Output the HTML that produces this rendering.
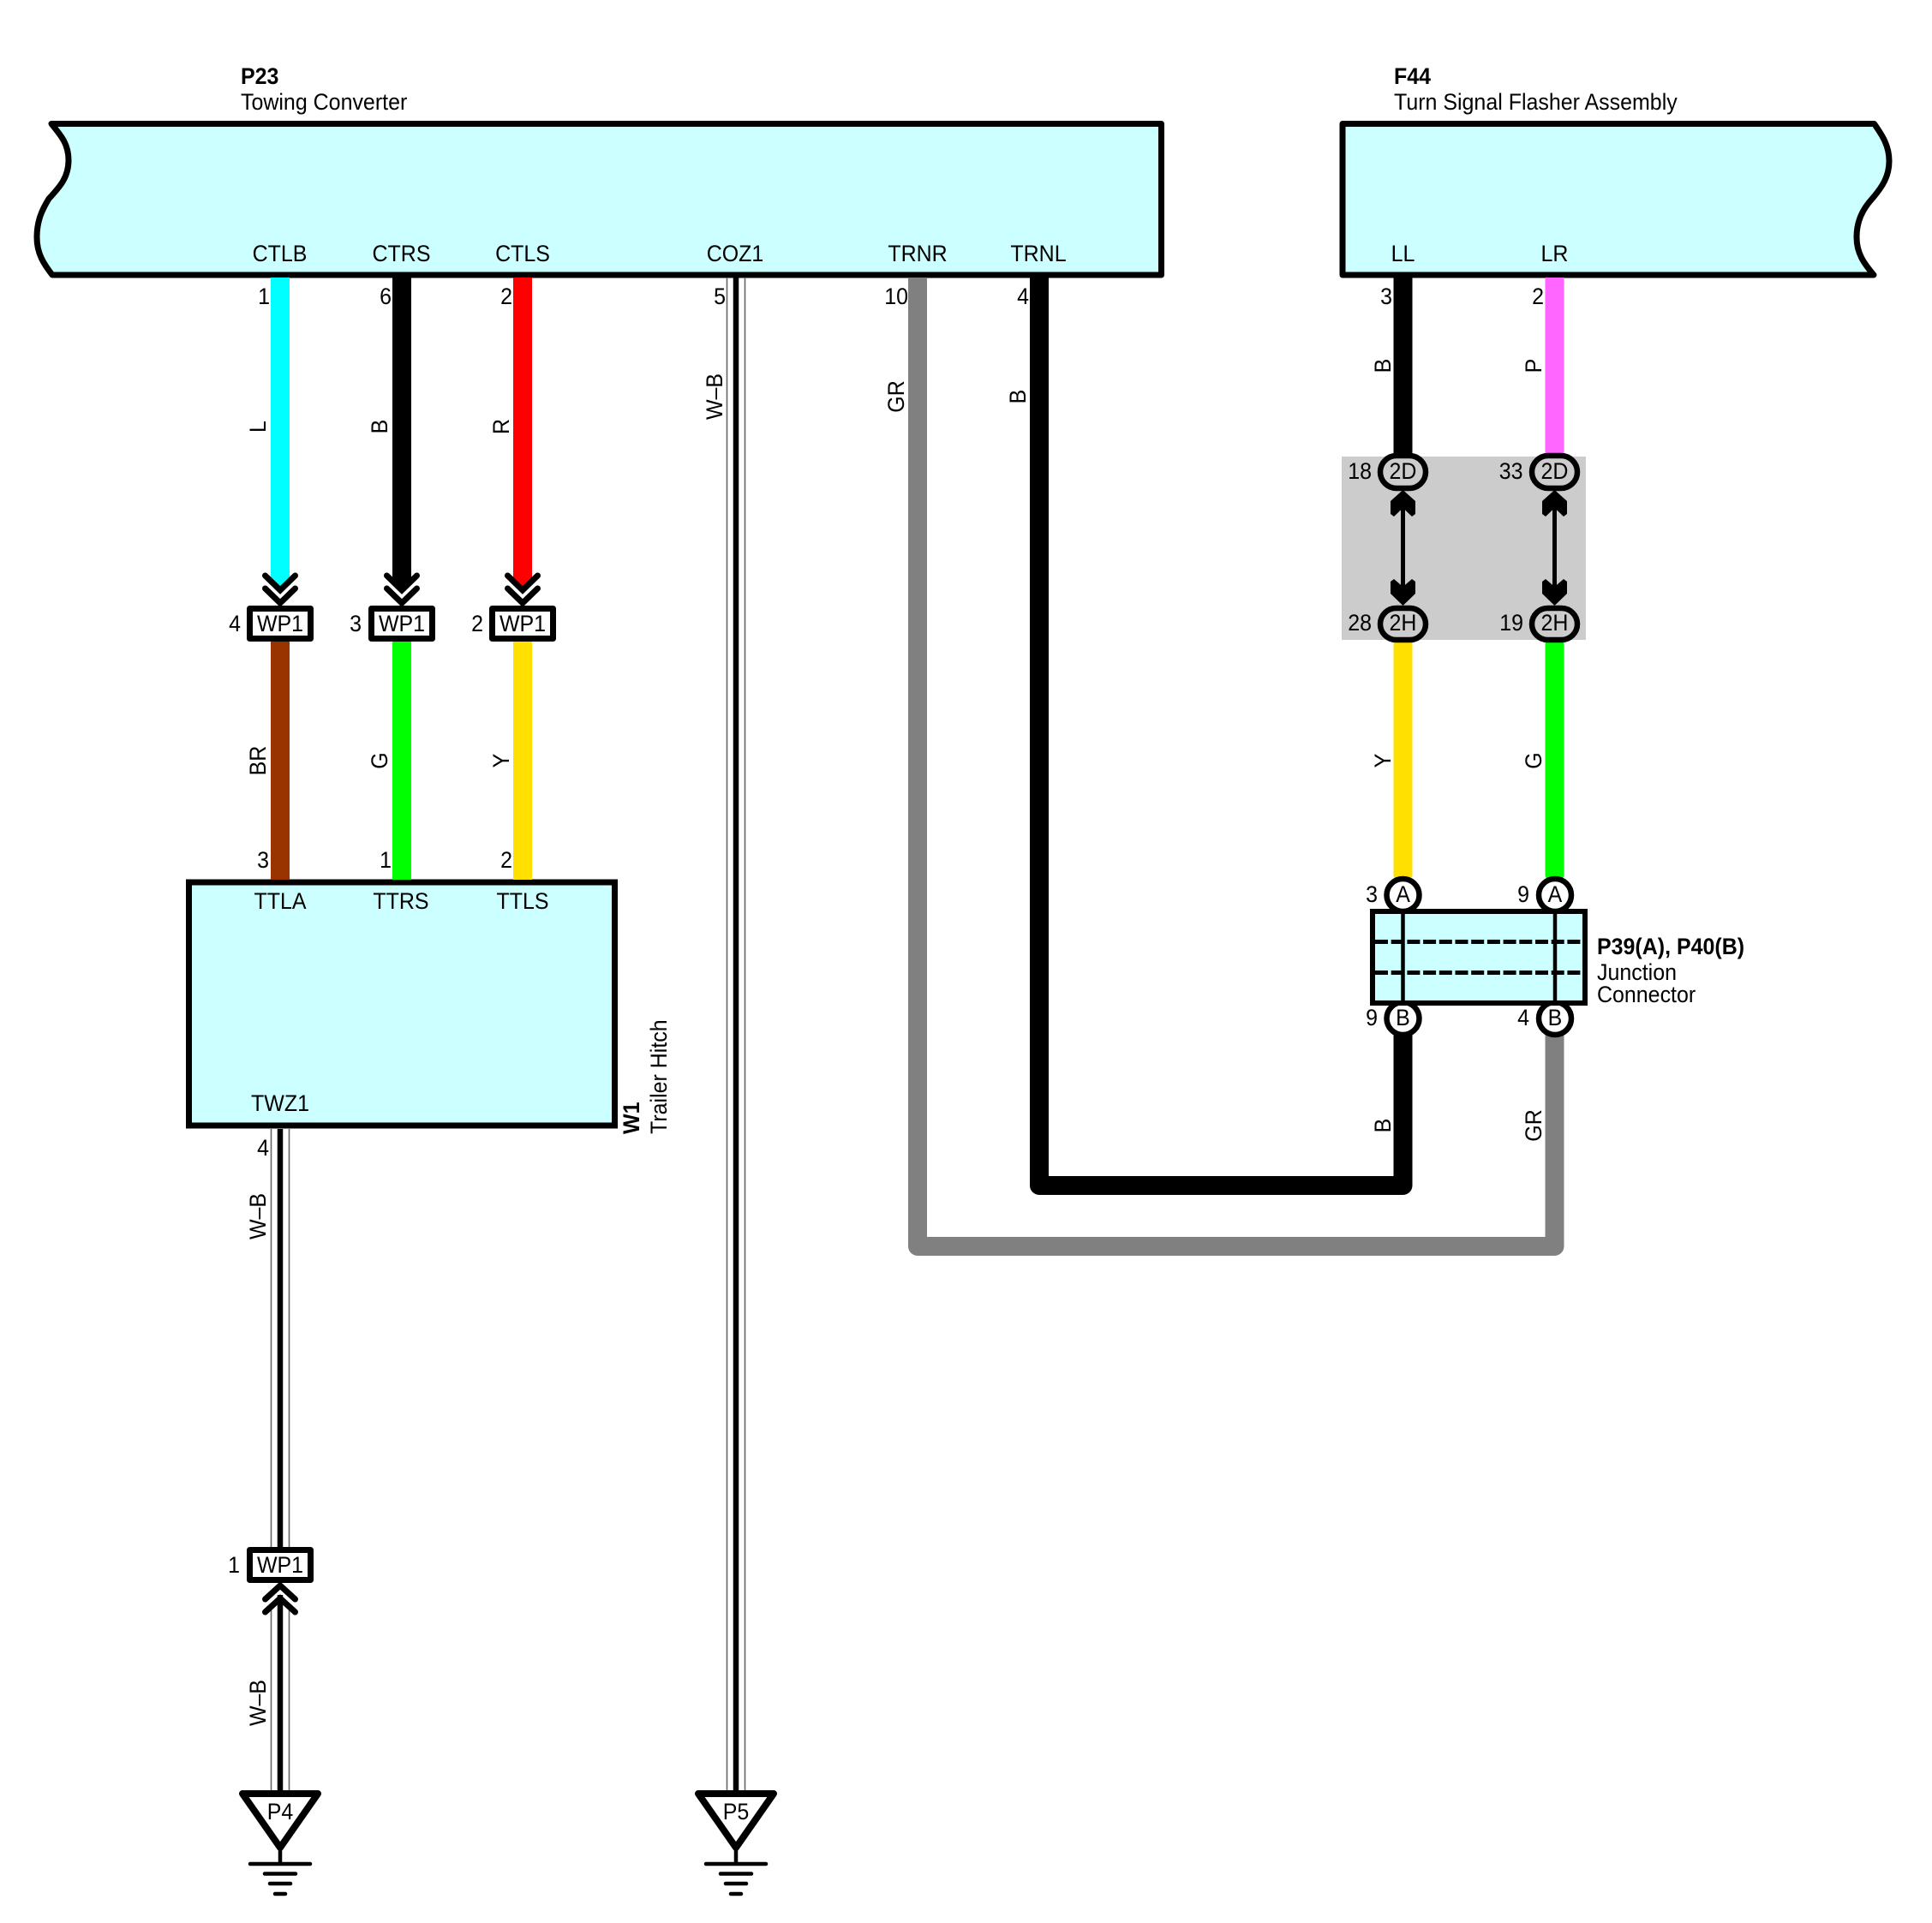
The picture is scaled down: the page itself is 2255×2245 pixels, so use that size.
<!DOCTYPE html>
<html><head><meta charset="utf-8"><style>
html,body{margin:0;padding:0;background:#fff}
svg{display:block}
text{font-family:"Liberation Sans",sans-serif;font-size:27px;fill:#000;transform-box:fill-box;transform:scaleX(.925);transform-origin:left center}
.c{text-anchor:middle;transform-origin:center center}
.e{text-anchor:end;transform-origin:right center}
.b{font-weight:bold}
</style></head><body>
<svg xmlns="http://www.w3.org/2000/svg" width="2255" height="2245" viewBox="0 0 2255 2245">
<rect width="2255" height="2245" fill="#fff"/>
<path d="M60 144.5H1355.5V321H61C51 308 43 296 43 277C43 258 49 245 57 232C70 218 80 207 80 187C80 168 71 158 60 144.5Z" fill="#ccffff" stroke="#000" stroke-width="7" stroke-linejoin="round"/>
<path d="M1567 144.5H2187.5C2197 158 2205 170 2205 188C2205 206 2197 218 2186 231C2174 244 2167 258 2167 277C2167 296 2176 308 2187 321H1567Z" fill="#ccffff" stroke="#000" stroke-width="7" stroke-linejoin="round"/>
<rect x="220.5" y="1030" width="497" height="284" fill="#ccffff" stroke="#000" stroke-width="7"/>
<rect x="1566" y="533" width="285" height="214" fill="#ccc"/>

<!-- upper wires -->
<polygon points="316,324 338,324 338,676 327,686 316,676" fill="#00ffff"/>
<polygon points="458,324 480,324 480,676 469,686 458,676" fill="#000"/>
<polygon points="599,324 621,324 621,676 610,686 599,676" fill="#ff0000"/>
<!-- lower wires -->
<rect x="316" y="749" width="22" height="278" fill="#993300"/>
<rect x="458" y="749" width="22" height="278" fill="#00ff00"/>
<rect x="599" y="749" width="22" height="278" fill="#ffe000"/>
<!-- F44 wires -->
<rect x="1626.5" y="324" width="22" height="208" fill="#000"/>
<rect x="1803.5" y="324" width="22" height="208" fill="#ff66ff"/>
<rect x="1626.5" y="748" width="22" height="278" fill="#ffe000" rx="4"/>
<rect x="1803.5" y="748" width="22" height="278" fill="#00ff00" rx="4"/>
<path d="M1071 324V1455H1814.5V1200" fill="none" stroke="#808080" stroke-width="22" stroke-linejoin="round"/>
<path d="M1213 324V1384H1637.5V1200" fill="none" stroke="#000" stroke-width="22" stroke-linejoin="round"/>

<!-- W-B double wires -->
<g fill="none">
<path d="M316.5 1318V1806M337.5 1318V1806M316.5 1880V2092M337.5 1880V2092" stroke="#666" stroke-width="1.6"/>
<path d="M327 1318V1806M327 1862V2092" stroke="#000" stroke-width="6.5"/>
<path d="M848.5 324V2092M869.5 324V2092" stroke="#666" stroke-width="1.6"/>
<path d="M859 324V2092" stroke="#000" stroke-width="6.5"/>
</g>

<!-- chevrons -->
<g fill="none" stroke="#000" stroke-width="7" stroke-linecap="round">
<path d="M309.5 672L327 689L344.5 672M309.5 687L327 704L344.5 687"/>
<path d="M451.5 672L469 689L486.5 672M451.5 687L469 704L486.5 687"/>
<path d="M592.5 672L610 689L627.5 672M592.5 687L610 704L627.5 687"/>
<path d="M309.5 1867L327 1851L344.5 1867M309.5 1882L327 1866L344.5 1882"/>
</g>

<!-- WP1 boxes -->
<g fill="#fff" stroke="#000" stroke-width="7" stroke-linejoin="round">
<rect x="291.5" y="710.5" width="71" height="35"/>
<rect x="433.5" y="710.5" width="71" height="35"/>
<rect x="574.5" y="710.5" width="71" height="35"/>
<rect x="291.5" y="1809.5" width="71" height="35"/>
</g>

<!-- 2D / 2H -->
<g fill="none" stroke="#000" stroke-width="6.5">
<rect x="1611" y="532" width="53" height="38" rx="19"/>
<rect x="1788" y="532" width="53" height="38" rx="19"/>
<rect x="1611" y="710" width="53" height="37" rx="18.5"/>
<rect x="1788" y="710" width="53" height="37" rx="18.5"/>
</g>
<path d="M1637.5 590V690M1814.5 590V690" stroke="#000" stroke-width="5"/>
<polygon points="1637.5,572 1652,585 1652,600 1648,603 1637.5,593 1627,603 1623,600 1623,585"/>
<polygon points="1814.5,572 1829,585 1829,600 1825,603 1814.5,593 1804,603 1800,600 1800,585"/>
<polygon points="1637.5,707 1652,693 1652,679 1648,676 1637.5,685 1627,676 1623,679 1623,693"/>
<polygon points="1814.5,707 1829,693 1829,679 1825,676 1814.5,685 1804,676 1800,679 1800,693"/>

<!-- junction -->
<circle cx="1637.5" cy="1045" r="19" fill="#fff" stroke="#000" stroke-width="6.5"/>
<circle cx="1815" cy="1045" r="19" fill="#fff" stroke="#000" stroke-width="6.5"/>
<circle cx="1637.5" cy="1189" r="19" fill="#fff" stroke="#000" stroke-width="6.5"/>
<circle cx="1815" cy="1189" r="19" fill="#fff" stroke="#000" stroke-width="6.5"/>
<rect x="1602" y="1064" width="248" height="107" fill="#ccffff" stroke="#000" stroke-width="6"/>
<path d="M1637.5 1064V1171M1815 1064V1171" stroke="#000" stroke-width="4.5"/>
<path d="M1605 1099.5H1847M1605 1135.5H1847" stroke="#000" stroke-width="5" stroke-dasharray="15 3.7"/>

<!-- grounds -->
<g fill="#fff" stroke="#000" stroke-width="8" stroke-linejoin="round">
<polygon points="283,2094 371,2094 327,2157"/>
<polygon points="815,2094 903,2094 859,2157"/>
</g>
<g fill="none" stroke="#000" stroke-width="4.5" stroke-linecap="round">
<path d="M327 2157V2176M292 2176H362M309 2187.5H345M315 2199H339M321 2211H333"/>
<path d="M859 2157V2176M824 2176H894M841 2187.5H877M847 2199H871M853 2211H865"/>
</g>

<!-- text: titles -->
<text x="281" y="98" class="b">P23</text>
<text x="281" y="128">Towing Converter</text>
<text x="1627" y="98" class="b">F44</text>
<text x="1627" y="128">Turn Signal Flasher Assembly</text>

<text x="326.5" y="305" class="c">CTLB</text>
<text x="468.5" y="305" class="c">CTRS</text>
<text x="610" y="305" class="c">CTLS</text>
<text x="858" y="305" class="c">COZ1</text>
<text x="1071" y="305" class="c">TRNR</text>
<text x="1212" y="305" class="c">TRNL</text>
<text x="1637.5" y="305" class="c">LL</text>
<text x="1814.5" y="305" class="c">LR</text>

<text x="315" y="355" class="e">1</text>
<text x="457" y="355" class="e">6</text>
<text x="598" y="355" class="e">2</text>
<text x="847" y="355" class="e">5</text>
<text x="1060" y="355" class="e">10</text>
<text x="1201" y="355" class="e">4</text>
<text x="1625" y="355" class="e">3</text>
<text x="1802" y="355" class="e">2</text>

<text x="281" y="737" class="e">4</text>
<text x="422" y="737" class="e">3</text>
<text x="564" y="737" class="e">2</text>
<text x="327" y="737" class="c">WP1</text>
<text x="469" y="737" class="c">WP1</text>
<text x="610" y="737" class="c">WP1</text>
<text x="280" y="1836" class="e">1</text>
<text x="327" y="1836" class="c">WP1</text>

<text x="314" y="1013" class="e">3</text>
<text x="457" y="1013" class="e">1</text>
<text x="598" y="1013" class="e">2</text>
<text x="327" y="1061" class="c">TTLA</text>
<text x="468" y="1061" class="c">TTRS</text>
<text x="610" y="1061" class="c">TTLS</text>
<text x="327" y="1297" class="c">TWZ1</text>
<text x="314" y="1349" class="e">4</text>
<text x="327" y="2124" class="c">P4</text>
<text x="859" y="2124" class="c">P5</text>

<text x="1637.5" y="559" class="c">2D</text>
<text x="1814.5" y="559" class="c">2D</text>
<text x="1637.5" y="736" class="c">2H</text>
<text x="1814.5" y="736" class="c">2H</text>
<text x="1601" y="559" class="e">18</text>
<text x="1777.5" y="559" class="e">33</text>
<text x="1601" y="736" class="e">28</text>
<text x="1778" y="736" class="e">19</text>

<text x="1637.5" y="1053" class="c">A</text>
<text x="1815" y="1053" class="c">A</text>
<text x="1637.5" y="1197" class="c">B</text>
<text x="1815" y="1197" class="c">B</text>
<text x="1608" y="1053" class="e">3</text>
<text x="1785" y="1053" class="e">9</text>
<text x="1608" y="1197" class="e">9</text>
<text x="1785" y="1197" class="e">4</text>
<text x="1864" y="1114" class="b">P39(A), P40(B)</text>
<text x="1864" y="1144">Junction</text>
<text x="1864" y="1170">Connector</text>

<!-- rotated wire labels -->
<g transform="translate(310,498) rotate(-90)"><text class="c">L</text></g>
<g transform="translate(452,498) rotate(-90)"><text class="c">B</text></g>
<g transform="translate(594,498) rotate(-90)"><text class="c">R</text></g>
<g transform="translate(310,888) rotate(-90)"><text class="c">BR</text></g>
<g transform="translate(452,888) rotate(-90)"><text class="c">G</text></g>
<g transform="translate(594,888) rotate(-90)"><text class="c">Y</text></g>
<g transform="translate(843,463) rotate(-90)"><text class="c">W–B</text></g>
<g transform="translate(1055,463) rotate(-90)"><text class="c">GR</text></g>
<g transform="translate(1197,463) rotate(-90)"><text class="c">B</text></g>
<g transform="translate(1623,427) rotate(-90)"><text class="c">B</text></g>
<g transform="translate(1799,427) rotate(-90)"><text class="c">P</text></g>
<g transform="translate(1623,888) rotate(-90)"><text class="c">Y</text></g>
<g transform="translate(1799,888) rotate(-90)"><text class="c">G</text></g>
<g transform="translate(1623,1314) rotate(-90)"><text class="c">B</text></g>
<g transform="translate(1799,1314) rotate(-90)"><text class="c">GR</text></g>
<g transform="translate(310,1420) rotate(-90)"><text class="c">W–B</text></g>
<g transform="translate(310,1988) rotate(-90)"><text class="c">W–B</text></g>
<g transform="translate(746,1324) rotate(-90)"><text class="b">W1</text></g>
<g transform="translate(778,1324) rotate(-90)"><text>Trailer Hitch</text></g>
</svg>
</body></html>
